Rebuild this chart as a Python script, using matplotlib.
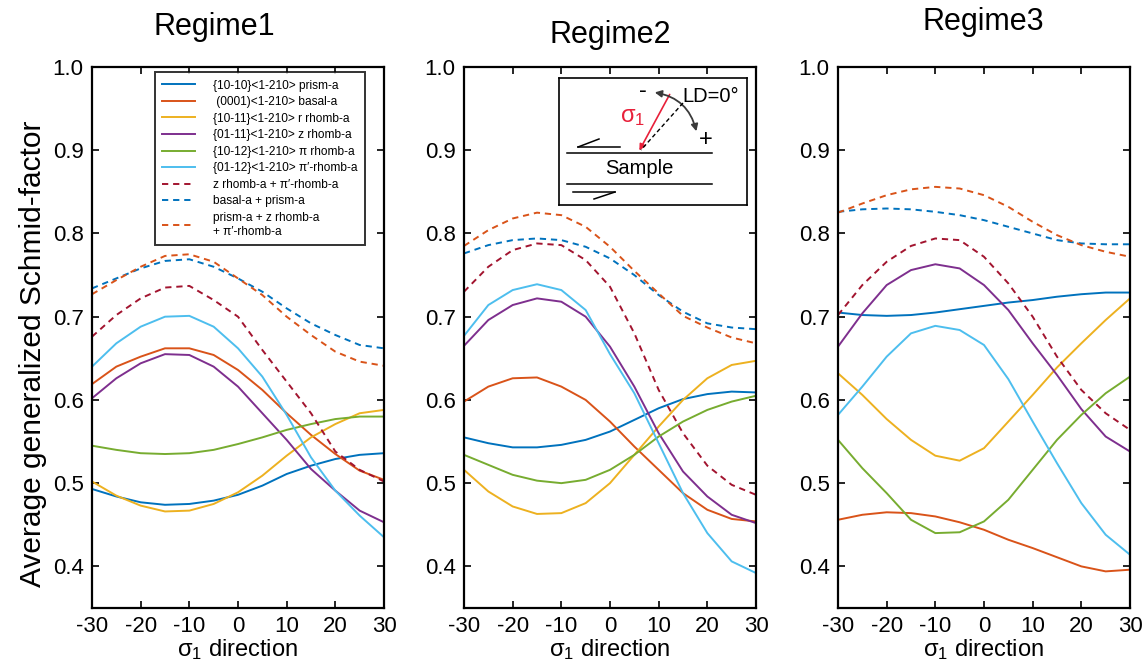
import matplotlib
matplotlib.use('Agg')
import matplotlib.pyplot as plt
from matplotlib.patches import FancyArrowPatch

plt.rcParams['font.family'] = ['Liberation Sans', 'DejaVu Sans']
plt.rcParams['mathtext.default'] = 'regular'
plt.rcParams['lines.scale_dashes'] = False
plt.rcParams['axes.unicode_minus'] = False

# sigma_1 direction (deg)
angles = [-30, -25, -20, -15, -10, -5, 0, 5, 10, 15, 20, 25, 30]

labels = [
    '{10-10}<1-210> prism-a',
    ' (0001)<1-210> basal-a',
    '{10-11}<1-210> r rhomb-a',
    '{01-11}<1-210> z rhomb-a',
    '{10-12}<1-210> π rhomb-a',
    '{01-12}<1-210> π′-rhomb-a',
    'z rhomb-a + π′-rhomb-a',
    'basal-a + prism-a',
    'prism-a + z rhomb-a\n+ π′-rhomb-a',
]
colors = ['#0072BD', '#D95319', '#EDB120', '#7E2F8E', '#77AC30', '#4DBEEE',
          '#A2142F', '#0072BD', '#D95319']
styles = ['-'] * 6 + ['--'] * 3

# Regime 1
r1_prism = [0.493, 0.484, 0.477, 0.474, 0.475, 0.479, 0.486, 0.497, 0.511, 0.521, 0.529, 0.534, 0.536]
r1_basal = [0.619, 0.640, 0.652, 0.662, 0.662, 0.654, 0.636, 0.612, 0.584, 0.558, 0.535, 0.515, 0.504]
r1_r = [0.502, 0.485, 0.473, 0.466, 0.467, 0.475, 0.489, 0.509, 0.533, 0.555, 0.571, 0.584, 0.588]
r1_z = [0.602, 0.626, 0.644, 0.655, 0.654, 0.640, 0.616, 0.584, 0.552, 0.517, 0.491, 0.467, 0.453]
r1_pi = [0.545, 0.540, 0.536, 0.535, 0.536, 0.540, 0.547, 0.555, 0.564, 0.571, 0.577, 0.580, 0.580]
r1_pip = [0.640, 0.668, 0.688, 0.700, 0.701, 0.688, 0.662, 0.628, 0.582, 0.531, 0.491, 0.461, 0.435]
r1_z_pip = [0.676, 0.702, 0.722, 0.735, 0.737, 0.720, 0.700, 0.660, 0.622, 0.584, 0.538, 0.516, 0.502]
r1_basal_prism = [0.734, 0.746, 0.758, 0.767, 0.769, 0.760, 0.746, 0.730, 0.710, 0.692, 0.678, 0.666, 0.662]
r1_prism_z_pip = [0.727, 0.744, 0.760, 0.773, 0.775, 0.766, 0.746, 0.726, 0.700, 0.678, 0.658, 0.646, 0.641]

# Regime 2
r2_prism = [0.555, 0.548, 0.543, 0.543, 0.546, 0.552, 0.562, 0.576, 0.590, 0.601, 0.607, 0.610, 0.609]
r2_basal = [0.598, 0.616, 0.626, 0.627, 0.616, 0.600, 0.574, 0.544, 0.516, 0.488, 0.468, 0.457, 0.454]
r2_r = [0.516, 0.490, 0.472, 0.463, 0.464, 0.476, 0.500, 0.534, 0.568, 0.600, 0.626, 0.642, 0.647]
r2_z = [0.665, 0.696, 0.714, 0.722, 0.718, 0.700, 0.664, 0.616, 0.560, 0.514, 0.484, 0.462, 0.452]
r2_pi = [0.534, 0.522, 0.510, 0.503, 0.500, 0.504, 0.516, 0.534, 0.556, 0.574, 0.588, 0.598, 0.605]
r2_pip = [0.677, 0.714, 0.732, 0.739, 0.732, 0.708, 0.655, 0.608, 0.548, 0.488, 0.440, 0.406, 0.392]
r2_z_pip = [0.730, 0.760, 0.780, 0.788, 0.786, 0.768, 0.736, 0.680, 0.612, 0.560, 0.521, 0.498, 0.486]
r2_basal_prism = [0.776, 0.786, 0.792, 0.794, 0.792, 0.784, 0.770, 0.750, 0.726, 0.706, 0.692, 0.687, 0.685]
r2_prism_z_pip = [0.785, 0.804, 0.818, 0.825, 0.822, 0.808, 0.784, 0.755, 0.728, 0.701, 0.687, 0.675, 0.668]

# Regime 3
r3_prism = [0.705, 0.702, 0.701, 0.702, 0.705, 0.709, 0.713, 0.717, 0.720, 0.724, 0.727, 0.729, 0.729]
r3_basal = [0.456, 0.462, 0.465, 0.464, 0.460, 0.453, 0.444, 0.432, 0.422, 0.411, 0.400, 0.394, 0.396]
r3_r = [0.632, 0.606, 0.577, 0.552, 0.533, 0.527, 0.542, 0.574, 0.606, 0.639, 0.668, 0.696, 0.722]
r3_z = [0.664, 0.704, 0.738, 0.756, 0.763, 0.758, 0.738, 0.708, 0.668, 0.630, 0.589, 0.556, 0.538]
r3_pi = [0.552, 0.518, 0.488, 0.456, 0.440, 0.441, 0.454, 0.480, 0.516, 0.552, 0.582, 0.608, 0.628]
r3_pip = [0.582, 0.616, 0.652, 0.680, 0.689, 0.684, 0.666, 0.625, 0.574, 0.524, 0.476, 0.438, 0.414]
r3_z_pip = [0.702, 0.738, 0.766, 0.785, 0.794, 0.792, 0.772, 0.740, 0.700, 0.652, 0.612, 0.584, 0.564]
r3_basal_prism = [0.826, 0.829, 0.830, 0.829, 0.826, 0.822, 0.816, 0.808, 0.800, 0.792, 0.788, 0.787, 0.787]
r3_prism_z_pip = [0.825, 0.836, 0.846, 0.853, 0.856, 0.854, 0.846, 0.832, 0.814, 0.798, 0.786, 0.778, 0.772]

regimes = [
    [r1_prism, r1_basal, r1_r, r1_z, r1_pi, r1_pip, r1_z_pip, r1_basal_prism, r1_prism_z_pip],
    [r2_prism, r2_basal, r2_r, r2_z, r2_pi, r2_pip, r2_z_pip, r2_basal_prism, r2_prism_z_pip],
    [r3_prism, r3_basal, r3_r, r3_z, r3_pi, r3_pip, r3_z_pip, r3_basal_prism, r3_prism_z_pip],
]
titles = ['Regime1', 'Regime2', 'Regime3']

W, H = 1146, 671
fig = plt.figure(figsize=(W / 100, H / 100), dpi=100)

lefts = [92, 464, 838]
axes = []
for i, series in enumerate(regimes):
    ax = fig.add_axes([lefts[i] / W, (H - 608) / H, 292 / W, 541 / H])
    axes.append(ax)
    for vals, c, ls, lab in zip(series, colors, styles, labels):
        if ls == '--':
            ax.plot(angles, vals, color=c, lw=1.4, dashes=(4.5, 3.5), label=lab)
        else:
            ax.plot(angles, vals, color=c, lw=1.4, label=lab)
    ax.set_xlim(-30, 30)
    ax.set_ylim(0.35, 1.0)
    ax.set_xticks(range(-30, 31, 10))
    ax.set_yticks([0.4, 0.5, 0.6, 0.7, 0.8, 0.9, 1.0])
    ax.set_yticklabels(['0.4', '0.5', '0.6', '0.7', '0.8', '0.9', '1.0'])
    ax.tick_params(direction='in', top=True, right=True, length=5, width=1.2,
                   labelsize=16, pad=6)
    for sp in ax.spines.values():
        sp.set_linewidth(1.6)
    ax.set_xlabel('σ$_1$ direction', fontsize=17, labelpad=0)

for (tx, ty), t in zip([(214, 27), (610, 35), (983, 22)], titles):
    fig.text(tx / W, 1 - ty / H, t, fontsize=22, ha='center', va='center')

fig.text(33 / W, 1 - 354 / H, 'Average generalized Schmid-factor', fontsize=21.5,
         rotation=90, ha='center', va='center')

leg = axes[0].legend(loc='upper left', bbox_to_anchor=(0.215, 0.99), fontsize=8.6,
                     frameon=True, fancybox=False, borderaxespad=0,
                     handlelength=2.8, handletextpad=1.5, labelspacing=0.38,
                     borderpad=0.6)
leg.get_frame().set_edgecolor('black')
leg.get_frame().set_linewidth(1.4)

# sketch of loading geometry in Regime2 panel (pixel coordinates)
ins = fig.add_axes([559 / W, (H - 205) / H, 188 / W, 127 / H])
ins.set_xlim(559, 747)
ins.set_ylim(205, 78)
ins.set_xticks([])
ins.set_yticks([])
for sp in ins.spines.values():
    sp.set_linewidth(1.2)

ins.plot([567, 712], [153, 153], color='black', lw=1.1)
ins.plot([567, 712], [184, 184], color='black', lw=1.1)
ins.plot([578, 620], [147, 147], color='black', lw=1.1)
ins.plot([578, 599], [147, 139], color='black', lw=1.1)
ins.plot([573, 615], [192, 192], color='black', lw=1.1)
ins.plot([594, 615], [199, 192], color='black', lw=1.1)
ins.text(639, 169, 'Sample', fontsize=14.5, ha='center', va='center')
ins.plot([683, 641], [103, 150], color='black', lw=1.0, dashes=(3, 2))
ins.add_patch(FancyArrowPatch((671, 92), (638, 153), arrowstyle='-|>',
                              mutation_scale=9, color='#E8203A', lw=1.2))
ins.add_patch(FancyArrowPatch((652, 92), (697, 134), arrowstyle='<|-|>',
                              connectionstyle='arc3,rad=-0.35',
                              mutation_scale=10, color='#3a3a3a', lw=1.3))
ins.text(633, 117, 'σ$_1$', fontsize=17, color='#E8203A', ha='center', va='center')
ins.text(643, 91, '-', fontsize=17, ha='center', va='center')
ins.text(706, 140, '+', fontsize=17, ha='center', va='center')
ins.text(682, 96, 'LD=0°', fontsize=14.5, ha='left', va='center')

fig.savefig('out.png', dpi=100)
